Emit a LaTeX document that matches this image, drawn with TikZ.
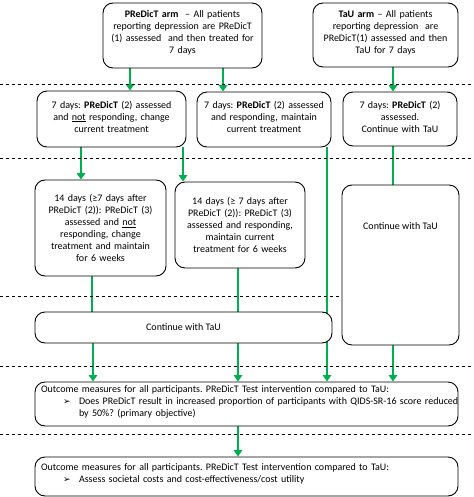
\documentclass[tikz,border=0pt]{standalone}
\usepackage{fontspec}
\setmainfont{Carlito}
\newfontfamily\symfont{DejaVu Sans}
\usetikzlibrary{arrows.meta,backgrounds}
\definecolor{flowgreen}{RGB}{0,176,80}
\newcommand\liftpar{\par\kern5pt}
\frenchspacing

\begin{document}
\begin{tikzpicture}[x=1pt,y=-1pt,
  box/.style={draw,rounded corners=10pt,line width=0.9pt,fill=white,align=center,inner sep=2pt,
    font=\fontsize{10}{12}\selectfont},
  lifted/.style={execute at end node=\liftpar},
  widebox/.style={box,lifted,minimum width=423pt,text width=411pt,inner xsep=6pt,align=left},
  flow/.style={draw=flowgreen,line width=2.4pt},
  flowarrow/.style={flow,-{Triangle[length=6.5pt,width=8.5pt]}},
  sep/.style={dashed,line width=0.6pt}]
\useasboundingbox (0,0) rectangle (473,497);

% arms
\node[box,lifted,minimum width=159pt,text width=155pt,minimum height=65pt] (pArm) at (182.5,35.5)
  {\textbf{PReDicT arm}~ -- All patients\\reporting depression are PReDicT\\(1) assessed~ and then treated for\\7 days};
\node[box,lifted,minimum width=145pt,text width=141pt,minimum height=64pt] (tauArm) at (385.5,35)
  {\textbf{TaU arm} -- All patients\\reporting depression~ are\\PReDicT(1) assessed and then\\TaU for 7 days};

% 7 days
\node[box,lifted,minimum width=149pt,text width=145pt,minimum height=56pt] (pNot) at (111.5,119)
  {7 days: \textbf{PReDicT} (2) assessed\\and \underline{not} responding, change\\current treatment};
\node[box,lifted,minimum width=134pt,text width=130pt,minimum height=55pt] (pResp) at (264,119.5)
  {7 days: \textbf{PReDicT} (2) assessed\\and responding, maintain\\current treatment};
\node[box,lifted,minimum width=114pt,text width=110pt,minimum height=54pt] (tauWeek) at (400,119)
  {7 days: \textbf{PReDicT} (2)\\assessed.\\Continue with TaU};

% 14 days
\node[box,minimum width=131pt,text width=127pt,minimum height=96pt] (pNotB) at (100.5,228)
  {14 days (≥7 days after\\PReDicT (2)): PReDicT (3)\\assessed and \underline{not}\\responding, change\\treatment and maintain\\for 6 weeks};
\node[box,minimum width=130pt,text width=126pt,minimum height=86pt] (pRespB) at (240,225)
  {14 days (≥ 7 days after\\PReDicT (2)): PReDicT (3)\\assessed and responding,\\maintain current\\treatment for 6 weeks};
\node[box,minimum width=117pt,inner ysep=0pt,text height=44pt,text depth=116pt] (tauCont) at (400.5,265)
  {Continue with TaU};

\node[box,minimum width=297pt,minimum height=31pt] (pCont) at (183.5,327.5) {Continue with TaU};

% outcomes
\node[widebox,minimum height=44pt] (outA) at (246.5,404)
  {\makebox[358pt][s]{Outcome measures for all participants. PReDicT Test intervention compared to TaU:}\\
   \mbox{\hspace*{22pt}\makebox[16pt][l]{\symfont\small ➢}Does PReDicT result in increased proportion of participants with QIDS-SR-16 score reduced}\\
   \hspace*{38pt}by 50\%? (primary objective)};
\node[widebox,minimum height=39pt] (outB) at (246.5,476.5)
  {\makebox[358pt][s]{Outcome measures for all participants. PReDicT Test intervention compared to TaU:}\\
   \hspace*{22pt}\makebox[16pt][l]{\symfont\small ➢}Assess societal costs and cost-effectiveness/cost utility};

% time lines
\draw[sep] (0,84) -- (473,84);
\draw[sep] (0,158) -- (473,158);
\draw[sep] (0,296) -- (0,296 -| tauCont.west);
\draw[sep] (0,366) -- (473,366);
\draw[sep] (0,434) -- (473,434);

\begin{scope}[on background layer]
\draw[flowarrow] ([xshift=-52.5pt]pArm.south) -- ([xshift=-52.5pt]pArm.south |- pNot.north);
\draw[flowarrow] ([xshift=40.5pt]pArm.south) -- ([xshift=40.5pt]pArm.south |- pResp.north);
\draw[flowarrow] ([xshift=7.5pt]tauArm.south) -- ([xshift=7.5pt]tauArm.south |- tauWeek.north);
\draw[flowarrow] ([xshift=-30.5pt]pNot.south) -- ([xshift=-30.5pt]pNot.south |- pNotB.north);
\draw[flowarrow] ([xshift=71.5pt]pNot.south) -- ([xshift=71.5pt]pNot.south |- pRespB.north);
\draw[flowarrow] ([xshift=63pt]pResp.south) -- ([xshift=63pt]pResp.south |- outA.north);
\draw[flow] ([xshift=-7pt]tauWeek.south) -- ([xshift=-7pt]tauWeek.south |- tauCont.north);
\draw[flow] ([xshift=-8.5pt]pNotB.south) -- ([xshift=-8.5pt]pNotB.south |- pCont.north);
\draw[flow] ([xshift=-2pt]pRespB.south) -- ([xshift=-2pt]pRespB.south |- pCont.north);
\draw[flowarrow] ([xshift=-90.5pt]pCont.south) -- ([xshift=-90.5pt]pCont.south |- outA.north);
\draw[flowarrow] ([xshift=54.5pt]pCont.south) -- ([xshift=54.5pt]pCont.south |- outA.north);
\draw[flowarrow] ([xshift=-7.5pt]tauCont.south) -- ([xshift=-7.5pt]tauCont.south |- outA.north);
\draw[flowarrow] ([xshift=-8.5pt]outA.south) -- ([xshift=-8.5pt]outA.south |- outB.north);
\end{scope}
\end{tikzpicture}
\end{document}
